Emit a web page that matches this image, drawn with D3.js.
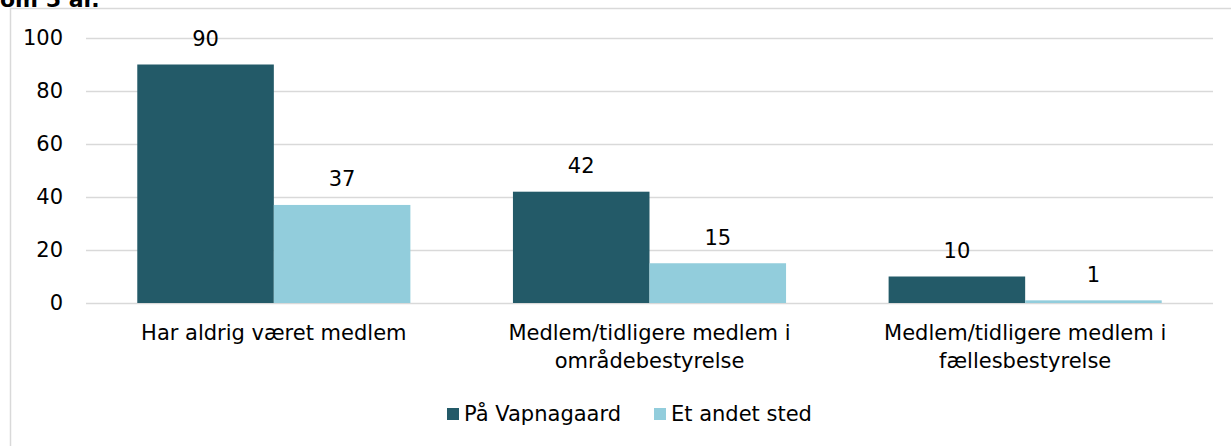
<!DOCTYPE html>
<html lang="da">
<head>
<meta charset="UTF-8">
<title>Medlemskab</title>
<script src="https://cdn.jsdelivr.net/npm/d3@7"></script>
<style>
    body { margin: 0; background: #fff; }
    svg text { font-family: "DejaVu Sans", sans-serif; fill: #000; }
</style>
</head>
<body>
<svg id="chart" width="1231" height="446"></svg>
<script>
    const categories = [
        ["Har aldrig været medlem"],
        ["Medlem/tidligere medlem i", "områdebestyrelse"],
        ["Medlem/tidligere medlem i", "fællesbestyrelse"]
    ];
    const seriesNames = ["På Vapnagaard", "Et andet sted"];
    const vapnagaard = [90, 42, 10];
    const andetSted = [37, 15, 1];
    const yTicks = [0, 20, 40, 60, 80, 100];
    const colors = ["#235A68", "#92CDDC"];

    const svg = d3.select("#chart");
    const margin = { left: 86, right: 18, top: 38, bottom: 143 };
    const width = 1231, height = 446;
    const fs = "21px";

    // frame
    svg.append("rect")
        .attr("x", 10.5).attr("y", 8.5)
        .attr("width", 1240).attr("height", 460)
        .attr("fill", "none").attr("stroke", "#d9d9d9").attr("stroke-width", 1.5);

    // cut-off title
    svg.append("text")
        .attr("x", 0).attr("y", 7)
        .style("font-weight", "bold").style("font-size", "22px")
        .text("om 5 år.");

    const x = d3.scaleBand()
        .domain(d3.range(categories.length))
        .range([margin.left, width - margin.right])
        .paddingInner(0.273).paddingOuter(0.1365);

    const x1 = d3.scaleBand().domain([0, 1]).range([0, x.bandwidth()]);

    const y = d3.scaleLinear().domain([0, 100]).range([height - margin.bottom, margin.top]);

    // gridlines
    svg.append("g").selectAll("line").data(yTicks).join("line")
        .attr("x1", margin.left).attr("x2", width - margin.right)
        .attr("y1", d => Math.round(y(d)) + 0.5).attr("y2", d => Math.round(y(d)) + 0.5)
        .attr("stroke", "#d9d9d9").attr("stroke-width", 1.5);

    svg.append("g").selectAll("text").data(yTicks).join("text")
        .attr("x", 63).attr("y", d => y(d))
        .attr("dy", "0.35em").attr("text-anchor", "end")
        .style("font-size", fs)
        .text(d => d);

    const data = categories.map((c, i) => ({ i, values: [vapnagaard[i], andetSted[i]] }));

    const groups = svg.append("g").selectAll("g").data(data).join("g")
        .attr("transform", d => `translate(${x(d.i)},0)`);

    groups.selectAll("rect").data(d => d.values).join("rect")
        .attr("x", (d, j) => x1(j))
        .attr("width", x1.bandwidth())
        .attr("y", d => y(d))
        .attr("height", d => y(0) - y(d))
        .attr("fill", (d, j) => colors[j]);

    groups.selectAll("text.val").data(d => d.values).join("text")
        .attr("class", "val")
        .attr("x", (d, j) => x1(j) + x1.bandwidth() / 2)
        .attr("y", d => y(d) - 26)
        .attr("dy", "0.35em")
        .attr("text-anchor", "middle")
        .style("font-size", fs)
        .text(d => d);

    // category labels
    svg.append("g").selectAll("text").data(categories).join("text")
        .attr("x", (d, i) => x(i) + x.bandwidth() / 2)
        .attr("y", 333)
        .attr("text-anchor", "middle")
        .style("font-size", fs)
        .each(function (d) {
            d3.select(this).selectAll("tspan").data(d).join("tspan")
                .attr("x", d3.select(this).attr("x"))
                .attr("dy", (t, k) => k === 0 ? "0.35em" : "1.3em")
                .text(t => t);
        });

    // legend
    const legendX = [447, 654];
    const legend = svg.append("g").selectAll("g").data(seriesNames).join("g")
        .attr("transform", (d, i) => `translate(${legendX[i]},408)`);
    legend.append("rect").attr("width", 12).attr("height", 12)
        .attr("fill", (d, i) => colors[i]);
    legend.append("text").attr("x", 17).attr("y", 6).attr("dy", "0.35em")
        .style("font-size", fs)
        .text(d => d);
</script>
</body>
</html>
